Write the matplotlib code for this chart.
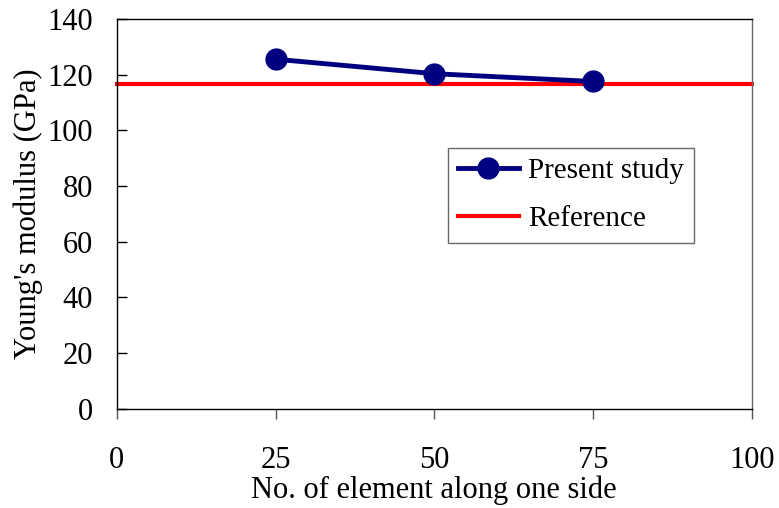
import matplotlib
matplotlib.use("Agg")
import matplotlib.pyplot as plt

# data
elements = [25, 50, 75]
modulus = [125.5, 120.3, 117.5]
ref_value = 116.7
ref_x = [0, 100]

xticks = [0, 25, 50, 75, 100]
yticks = [0, 20, 40, 60, 80, 100, 120, 140]

plt.rcParams['font.family'] = ['Liberation Serif', 'DejaVu Serif']
plt.rcParams['font.size'] = 22

fig = plt.figure(figsize=(7.79, 5.08), dpi=100)
ax = fig.add_axes([0.150, 0.195, 0.815, 0.768])

ax.plot(elements, modulus, color='#000080', lw=3.5, marker='o', ms=15,
        label='Present study', zorder=3)
ax.plot(ref_x, [ref_value, ref_value], color='#ff0000', lw=3,
        label='Reference', zorder=2, clip_on=False)

ax.set_xlim(0, 100)
ax.set_ylim(0, 140)
ax.set_xticks(xticks)
ax.set_yticks(yticks)
ax.tick_params(axis='x', direction='out', length=7, width=1, pad=20, color='#555555')
ax.tick_params(axis='y', direction='in', length=7, width=1, pad=17)
for s in ax.spines.values():
    s.set_linewidth(1)
ax.spines['right'].set_color('#666666')

ax.set_xlabel('No. of element along one side', labelpad=0)
ax.set_ylabel("Young's modulus (GPa)", labelpad=3)

leg = ax.legend(loc='upper left', bbox_to_anchor=(0.521, 0.67), frameon=True,
                fancybox=False, edgecolor='#444444', handlelength=2.1,
                handletextpad=0.3, borderpad=0.35, labelspacing=0.75,
                borderaxespad=0, fontsize=21)
leg.get_frame().set_linewidth(1)

fig.savefig('out.png', dpi=100)
